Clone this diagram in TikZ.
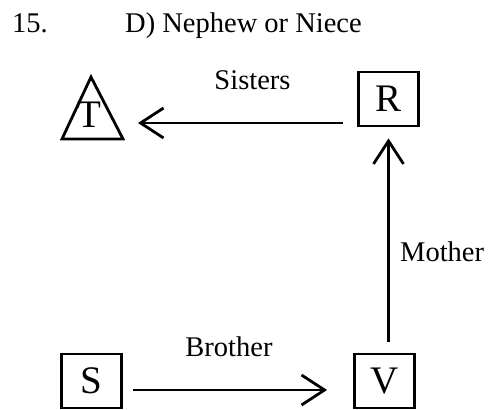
\documentclass[tikz,border=0pt]{standalone}
\usepackage{fontspec}
\setmainfont{Liberation Serif}
\usetikzlibrary{arrows.meta}

\begin{document}
\begin{tikzpicture}[x=1pt, y=1pt,
  lbl/.style={inner sep=0pt, font=\fontsize{28.5}{34}\selectfont},
  box/.style={draw, line width=2.8pt, minimum width=60pt, minimum height=54pt, inner sep=0pt, font=\fontsize{39}{39}\selectfont},
  rel/.style={line width=2.8pt, -{Straight Barb[length=23pt, width=30pt]}}]
\useasboundingbox (0,0) rectangle (496,410);
\node[lbl, anchor=base west] (num) at (12,377) {15.};
\node[lbl, anchor=base west] (ans) at (125,377) {D) Nephew or Niece};

\coordinate (ta) at (91,333);
\coordinate (tl) at (62,271);
\coordinate (tr) at (123,271);
\draw[line width=2.8pt] (ta) -- (tl) -- (tr) -- cycle;
\node[inner sep=0pt, anchor=base, font=\fontsize{39}{39}\selectfont] (T) at (89,282) {T};
\coordinate (tin) at (138,287);

\node[box] (R) at (388.5,311) {R};
\node[box] (S) at (91.5,29) {S};
\node[box] (V) at (384.5,29) {V};

\node[lbl, anchor=base] (sis) at (252.5,320) {Sisters};
\node[lbl, anchor=base west] (mot) at (400,148) {Mother};
\node[lbl, anchor=base] (bro) at (229,53) {Brother};

\draw[rel, shorten <=14pt] (R.west |- tin) -- (tin);
\draw[rel, shorten <=11pt, shorten >=11pt] (V.north -| R.south) -- (R.south);
\draw[rel, shorten <=10pt, shorten >=26pt] ([yshift=-9pt]S.east) -- ([yshift=-9pt]V.west);
\end{tikzpicture}
\end{document}
